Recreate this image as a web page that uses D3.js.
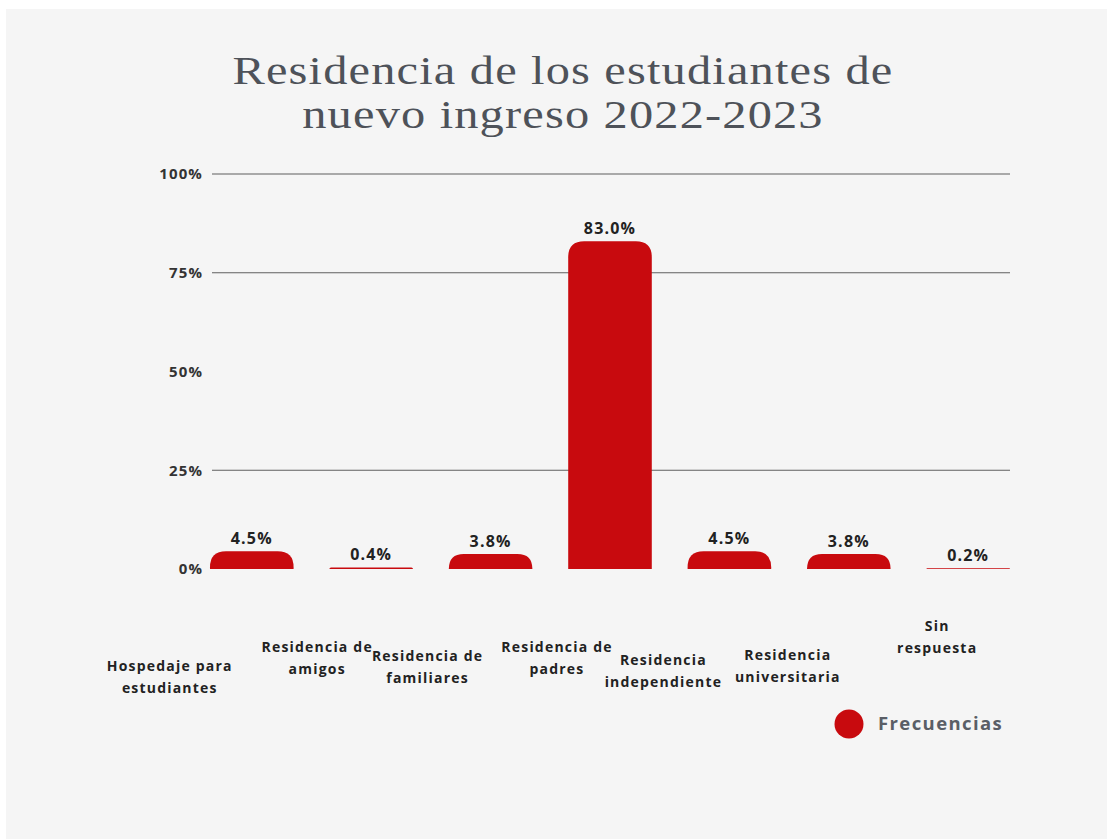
<!DOCTYPE html>
<html>
<head>
<meta charset="utf-8">
<script src="https://cdn.jsdelivr.net/npm/d3@7"></script>
<style>
    body { margin: 0; background: #ffffff; }
    svg { display: block; }
</style>
</head>
<body>
<svg id="chart"></svg>
<script>
// data
var categories = [
    "Hospedaje para estudiantes",
    "Residencia de amigos",
    "Residencia de familiares",
    "Residencia de padres",
    "Residencia independiente",
    "Residencia universitaria",
    "Sin respuesta"
];
var categoryLines = [
    ["Hospedaje para", "estudiantes"],
    ["Residencia de", "amigos"],
    ["Residencia de", "familiares"],
    ["Residencia de", "padres"],
    ["Residencia", "independiente"],
    ["Residencia", "universitaria"],
    ["Sin", "respuesta"]
];
var frecuencias = [4.5, 0.4, 3.8, 83.0, 4.5, 3.8, 0.2];
var yTicks = [0, 25, 50, 75, 100];
var gridTicks = [25, 75, 100];   // the 50% line isn't drawn in the original
var seriesName = "Frecuencias";

// layout
var width = 1107;
var height = 840;
var barColor = "#c80a0e";
var sans = "'Open Sans', sans-serif";

// the x labels sit off-centre in the original, nudge each one [dx, dy]
var labelNudge = [[-82, 97], [-54, 78], [-63, 87], [-53, 78], [-66, 91], [-61, 86], [-31, 57]];

var svg = d3.select("#chart")
    .attr("width", width)
    .attr("height", height);

// panel background
svg.append("rect")
    .attr("x", 6)
    .attr("y", 9)
    .attr("width", width - 6)
    .attr("height", height - 10)
    .attr("fill", "#f5f5f5");

// title (slightly stretched, like the original)
var title = svg.append("text")
    .attr("transform", "translate(563,0) scale(1.18,1)")
    .attr("text-anchor", "middle")
    .attr("font-family", "'Liberation Serif', 'DejaVu Serif', serif")
    .attr("font-size", 41)
    .attr("fill", "#4e5259")
    .attr("letter-spacing", 1);
title.append("tspan").attr("x", 0).attr("y", 84).text("Residencia de los estudiantes de");
title.append("tspan").attr("x", 0).attr("y", 128).text("nuevo ingreso 2022-2023");

// scales
var x = d3.scaleBand()
    .domain(categories)
    .range([210, 1010])
    .paddingInner(0.3)
    .paddingOuter(0);

var y = d3.scaleLinear()
    .domain([0, 100])
    .range([569, 174]);

// gridlines
svg.append("g")
    .selectAll("line")
    .data(gridTicks)
    .join("line")
    .attr("x1", 212)
    .attr("x2", 1010)
    .attr("y1", d => y(d))
    .attr("y2", d => y(d))
    .attr("stroke", "#5f5f5f")
    .attr("stroke-width", 1.2);

// y axis labels
var yAxis = svg.append("g")
    .attr("transform", "translate(203,0)")
    .call(d3.axisLeft(y)
        .tickValues(yTicks)
        .tickSize(0)
        .tickPadding(0)
        .tickFormat(d => d + "%"));
yAxis.select(".domain").remove();
yAxis.selectAll("text")
    .attr("font-family", sans)
    .attr("font-weight", "bold")
    .attr("font-size", 15)
    .attr("letter-spacing", 1.1)
    .attr("fill", "#333");

// bars with rounded top corners
function barPath(d, i) {
    var x0 = x(categories[i]);
    var w = x.bandwidth();
    var y0 = y(0);
    var y1 = y(d);
    var h = y0 - y1;
    var r = Math.min(16, h, w / 2);
    return "M" + x0 + "," + y0 +
        "L" + x0 + "," + (y1 + r) +
        "Q" + x0 + "," + y1 + " " + (x0 + r) + "," + y1 +
        "L" + (x0 + w - r) + "," + y1 +
        "Q" + (x0 + w) + "," + y1 + " " + (x0 + w) + "," + (y1 + r) +
        "L" + (x0 + w) + "," + y0 + "Z";
}

svg.append("g")
    .selectAll("path")
    .data(frecuencias)
    .join("path")
    .attr("d", barPath)
    .attr("fill", barColor);

// value labels
svg.append("g")
    .selectAll("text")
    .data(frecuencias)
    .join("text")
    .attr("x", (d, i) => x(categories[i]) + x.bandwidth() / 2)
    .attr("y", d => y(d) - 7)
    .attr("text-anchor", "middle")
    .attr("font-family", sans)
    .attr("font-weight", "bold")
    .attr("font-size", 16)
    .attr("letter-spacing", 1.2)
    .attr("fill", "#222")
    .text(d => d.toFixed(1) + "%");

// category labels
var xl = svg.append("g")
    .selectAll("text")
    .data(categoryLines)
    .join("text")
    .attr("text-anchor", "middle")
    .attr("font-family", sans)
    .attr("font-weight", "bold")
    .attr("font-size", 14)
    .attr("letter-spacing", 1.2)
    .attr("fill", "#222");
xl.each(function(lines, i) {
    var cx = x(categories[i]) + x.bandwidth() / 2 + labelNudge[i][0];
    var cy = y(0) + labelNudge[i][1];
    d3.select(this).selectAll("tspan")
        .data(lines)
        .join("tspan")
        .attr("x", cx)
        .attr("y", (l, j) => cy + j * 22)
        .attr("dy", "0.35em")
        .text(l => l);
});

// legend
var legend = svg.append("g")
    .attr("transform", "translate(849,724)");
legend.append("circle")
    .attr("r", 14.5)
    .attr("fill", barColor);
legend.append("text")
    .attr("x", 29)
    .attr("dy", "0.35em")
    .attr("font-family", sans)
    .attr("font-weight", "bold")
    .attr("font-size", 18.5)
    .attr("letter-spacing", 1.4)
    .attr("fill", "#5a5e66")
    .text(seriesName);
</script>
</body>
</html>
